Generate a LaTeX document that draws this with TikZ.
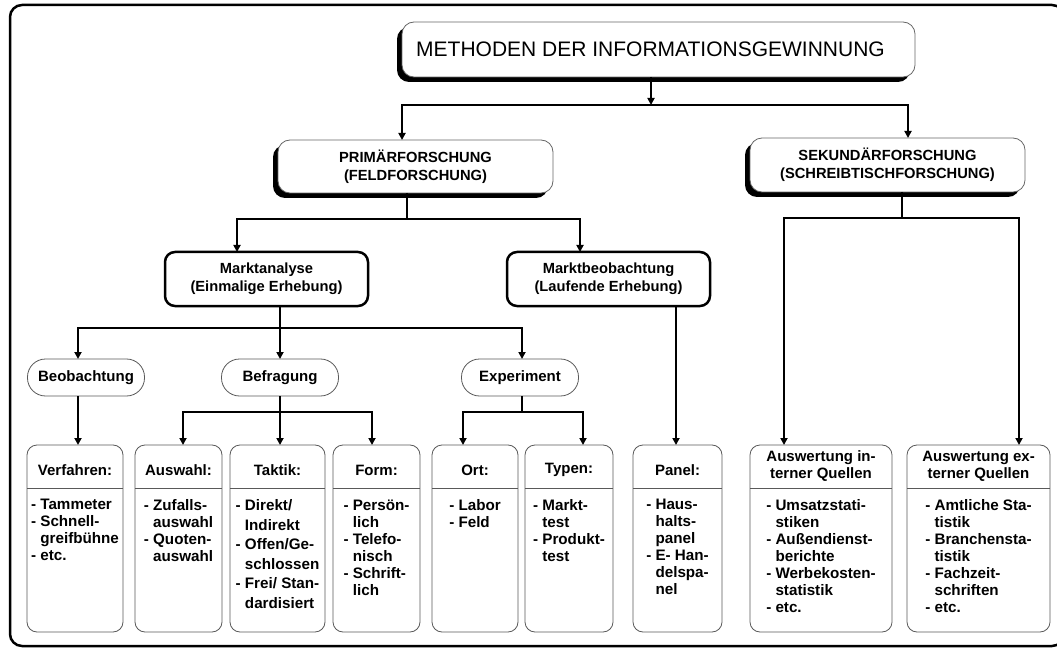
\documentclass[tikz,border=0pt]{standalone}
\usepackage{fontspec}
\setmainfont{Liberation Sans}
\usetikzlibrary{arrows.meta,shadows}
\newcommand{\ind}{\hphantom{-\ }}
\begin{document}
\begin{tikzpicture}[x=1pt,y=-1pt,
  every node/.style={inner sep=0pt, outer sep=0pt},
  conn/.style={line width=2.2pt, line join=miter},
  arr/.style={conn, -{Triangle[length=7pt,width=7pt]}},
  arrtwo/.style={conn, {Triangle[length=7pt,width=7pt]}-{Triangle[length=7pt,width=7pt]}},
  bfont/.style={font=\fontsize{14.7}{18}\selectfont\bfseries},
  shbox/.style={draw=black!60, line width=0.8pt, fill=white, rounded corners=12pt,
     drop shadow={shadow xshift=-5pt, shadow yshift=-5pt, fill=black, opacity=1},
     bfont, align=center},
  thickbox/.style={draw=black, line width=2.5pt, fill=white, rounded corners=10pt,
     bfont, align=center, minimum width=203pt, minimum height=54pt},
  oval/.style={draw=black!65, line width=0.8pt, rounded corners=18pt,
     minimum height=37pt, minimum width=117pt, font=\fontsize{15}{17}\selectfont\bfseries},
  leaf/.style={draw=black!65, line width=0.8pt, rounded corners=10pt, minimum height=187pt},
  head/.style={font=\fontsize{15}{17}\selectfont\bfseries, align=center},
  body/.style={font=\fontsize{15.2}{17}\selectfont\bfseries, align=left, anchor=north},
]
\useasboundingbox (0,0) rectangle (1057,652);
% outer frame
\draw[line width=2.5pt, rounded corners=12pt] (10,5) rectangle (1064,646);

% top levels
\node[shbox, minimum width=513pt, minimum height=55pt, font=\fontsize{21}{22}\selectfont] (title) at (658.5,49.5) {\hspace*{-16pt}METHODEN DER INFORMATIONSGEWINNUNG};
\node[shbox, minimum width=275pt, minimum height=53pt] (prim) at (415.5,166.5) {PRIMÄRFORSCHUNG\\(FELDFORSCHUNG)};
\node[shbox, minimum width=275pt, minimum height=54pt] (sek) at (887.5,165) {SEKUNDÄRFORSCHUNG\\(SCHREIBTISCHFORSCHUNG)};

\node[thickbox] (ma) at (266.5,279) {Marktanalyse\\(Einmalige Erhebung)};
\node[thickbox] (mb) at (608.5,279) {Marktbeobachtung\\(Laufende Erhebung)};

\node[oval] (beob) at (86,377.5) {Beobachtung};
\node[oval] (befr) at (280,377.5) {Befragung};
\node[oval] (exp) at (520,377.5) {Experiment};

% leaf boxes
\node[leaf, minimum width=96pt] (verf) at (75,538.5) {};
\node[leaf, minimum width=87pt] (ausw) at (178.5,538.5) {};
\node[leaf, minimum width=95pt] (takt) at (277.5,538.5) {};
\node[leaf, minimum width=87pt] (form) at (376.5,538.5) {};
\node[leaf, minimum width=86pt] (ort) at (475,538.5) {};
\node[leaf, minimum width=88pt] (typ) at (569,538.5) {};
\node[leaf, minimum width=89pt] (panel) at (677.5,538.5) {};
\node[leaf, minimum width=142pt] (intern) at (821,538.5) {};
\node[leaf, minimum width=143pt] (extern) at (978.5,538.5) {};

\coordinate (dy) at (0,488);
\coordinate (hy) at (0,470);
\coordinate (by) at (0,499.5);
\foreach \n in {verf,ausw,takt,form,ort,typ,panel,intern,extern}{
  \draw[draw=black!65, line width=0.7pt] (\n.west |- dy) -- (\n.east |- dy);
}
\node[head] (hverf) at (verf |- hy) {Verfahren:};
\node[head] (hausw) at (ausw |- hy) {Auswahl:};
\node[head] (htakt) at (takt |- hy) {Taktik:};
\node[head] (hform) at (form |- hy) {Form:};
\node[head] (hort) at (ort |- hy) {Ort:};
\node[head] (htyp) at (typ |- hy) {Typen:};
\node[head] (hpanel) at (panel |- hy) {Panel:};
\node[head] (hintern) at (821,466.5) {Auswertung in-\\terner Quellen};
\node[head] (hextern) at (978.5,466.5) {Auswertung ex-\\terner Quellen};

\node[body] (bverf) at (verf |- by) {- Tammeter\\- Schnell-\\\ind greifbühne\\- etc.};
\node[body] (bausw) at (ausw |- by) {- Zufalls-\\\ind auswahl\\- Quoten-\\\ind auswahl};
\node[body, font=\fontsize{15.2}{19.5}\selectfont\bfseries] (btakt) at (takt |- by) {- Direkt/\\\ind Indirekt\\- Offen/Ge-\\\ind schlossen\\- Frei/ Stan-\\\ind dardisiert};
\node[body] (bform) at (form |- by) {- Persön-\\\ind lich\\- Telefo-\\\ind nisch\\- Schrift-\\\ind lich};
\node[body] (bort) at (ort |- by) {- Labor\\- Feld};
\node[body] (btyp) at (typ |- by) {- Markt-\\\ind test\\- Produkt-\\\ind test};
\node[body] (bpanel) at (panel |- by) {- Haus-\\\ind halts-\\\ind panel\\- E- Han-\\\ind delspa-\\\ind nel};
\node[body] (bintern) at (intern |- by) {- Umsatzstati-\\\ind stiken\\- Außendienst-\\\ind berichte\\- Werbekosten-\\\ind statistik\\- etc.};
\node[body] (bextern) at (extern |- by) {- Amtliche Sta-\\\ind tistik\\- Branchensta-\\\ind tistik\\- Fachzeit-\\\ind schriften\\- etc.};

% connectors
\coordinate (j0) at (651,105);
\coordinate (jl) at (402,105);
\coordinate (jr) at (908,105);
\draw[arr] (title.south -| j0) -- (j0);
\draw[arrtwo] (prim.north -| jl) -- (jl) -- (jr) -- (sek.north -| jr);

\coordinate (k) at (407,219);
\coordinate (kl) at (237,219);
\coordinate (kr) at (580,219);
\draw[conn] (prim.south -| k) -- (k);
\draw[arrtwo] (ma.north -| kl) -- (kl) -- (kr) -- (mb.north -| kr);

\coordinate (s) at (902,218);
\coordinate (sl) at (784,218);
\coordinate (sr) at (1019,218);
\draw[conn] (sek.south -| s) -- (s);
\draw[arrtwo] (intern.north -| sl) -- (sl) -- (sr) -- (extern.north -| sr);

\coordinate (m) at (280,328);
\coordinate (ml) at (78,328);
\coordinate (mr) at (522,328);
\draw[conn] (ma.south -| m) -- (m);
\draw[arrtwo] (beob.north -| ml) -- (ml) -- (mr) -- (exp.north -| mr);
\draw[arr] (m) -- (befr.north -| m);

\coordinate (p) at (676,0);
\draw[arr] (mb.south -| p) -- (panel.north -| p);

\draw[arr] (beob.south -| ml) -- (verf.north -| ml);

\coordinate (b) at (280,412);
\coordinate (bl) at (183,412);
\coordinate (br) at (372,412);
\draw[conn] (befr.south -| b) -- (b);
\draw[arrtwo] (ausw.north -| bl) -- (bl) -- (br) -- (form.north -| br);
\draw[arr] (b) -- (takt.north -| b);

\coordinate (e) at (522,412);
\coordinate (el) at (463,412);
\coordinate (er) at (583,412);
\draw[conn] (exp.south -| e) -- (e);
\draw[arrtwo] (ort.north -| el) -- (el) -- (er) -- (typ.north -| er);
\end{tikzpicture}
\end{document}
